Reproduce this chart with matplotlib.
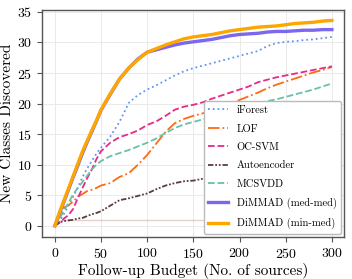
import matplotlib
matplotlib.use("Agg")
import matplotlib.pyplot as plt

plt.rcParams["font.family"] = "serif"
plt.rcParams["font.serif"] = ["cmr10", "DejaVu Serif"]
plt.rcParams["mathtext.fontset"] = "cm"
plt.rcParams["axes.formatter.use_mathtext"] = True

budget = [0, 5, 10, 15, 20, 25, 30, 35, 40, 45, 50, 60, 70, 80, 90, 100,
          110, 120, 130, 140, 150, 160, 170, 180, 190, 200, 210, 220, 230,
          240, 250, 260, 270, 280, 290, 300]

iforest = [0, 0.8, 2.0, 3.4, 4.8, 6.3, 8.0, 9.4, 10.6, 11.8, 12.8, 14.6, 17.0,
           20.1, 21.4, 22.3, 23.0, 23.8, 24.6, 25.3, 25.8, 26.2, 26.6, 27.0,
           27.4, 27.8, 28.2, 28.6, 29.4, 29.9, 30.1, 30.2, 30.4, 30.5, 30.7, 30.9]
lof = [0, 1.5, 3.0, 3.4, 4.0, 4.8, 5.2, 5.7, 5.9, 6.2, 6.6, 7.0, 8.0, 8.6,
       10.0, 11.6, 13.5, 15.4, 16.8, 17.5, 18.0, 18.4, 18.9, 19.4, 20.0, 20.6,
       21.2, 21.8, 22.5, 23.1, 23.6, 24.1, 24.6, 25.1, 25.5, 26.0]
ocsvm = [0, 0.5, 1.2, 1.8, 2.8, 4.6, 6.2, 7.8, 9.2, 10.9, 12.2, 13.6, 14.5,
         15.0, 15.6, 16.5, 17.1, 18.0, 19.0, 19.5, 19.8, 20.2, 20.8, 21.3,
         21.8, 22.3, 22.8, 23.5, 23.9, 24.3, 24.6, 24.9, 25.2, 25.5, 25.8, 26.1]
autoenc = [0, 0.6, 0.8, 0.9, 1.0, 1.2, 1.3, 1.6, 1.9, 2.1, 2.4, 3.3, 4.2, 4.5,
           4.9, 5.3, 6.0, 6.6, 7.0, 7.3, 7.4, 7.7, 8.0, 8.3, 8.6, 8.9, 9.2,
           9.5, 9.8, 10.0, 10.3, 10.6, 10.9, 11.1, 11.4, 11.7]
mcsvdd = [0, 1.2, 2.5, 3.8, 5.2, 6.2, 7.2, 8.2, 9.2, 10.0, 10.6, 11.4, 11.9,
          12.4, 13.0, 13.6, 14.3, 15.2, 16.0, 16.6, 17.0, 17.4, 17.9, 18.2,
          18.6, 19.0, 19.5, 20.0, 20.4, 20.7, 21.1, 21.5, 21.9, 22.3, 22.8, 23.3]
dimmad_med = [0, 2.0, 4.0, 6.0, 8.0, 9.9, 11.9, 13.7, 15.4, 17.1, 18.9, 21.5,
              24.0, 25.8, 27.3, 28.4, 28.8, 29.2, 29.6, 29.9, 30.1, 30.3, 30.5,
              30.8, 31.1, 31.3, 31.4, 31.5, 31.7, 31.8, 31.8, 31.9, 32.0, 32.0,
              32.1, 32.1]
dimmad_min = [0, 2.2, 4.2, 6.2, 8.2, 10.2, 12.2, 13.9, 15.6, 17.2, 19.0, 21.6,
              24.0, 25.8, 27.2, 28.4, 29.0, 29.6, 30.1, 30.6, 30.9, 31.1, 31.3,
              31.6, 31.9, 32.1, 32.3, 32.5, 32.6, 32.7, 32.9, 33.1, 33.2, 33.3,
              33.5, 33.6]

# faint baseline at one class
base_x = [8, 300]
base_y = [1, 1]

fig = plt.figure(figsize=(3.52, 2.79), dpi=100)
ax = fig.add_axes([0.119, 0.151, 0.858, 0.813])

ax.plot(base_x, base_y, color="#c99a9a", lw=1.0, alpha=0.45)
ax.plot(budget, iforest, ":", color="#6495ED", lw=1.3, label="iForest")
ax.plot(budget, lof, "-.", color="#FF6A13", lw=1.3, label="LOF")
ax.plot(budget, ocsvm, "--", color="#E7298A", lw=1.3, label="OC-SVM")
ax.plot(budget, autoenc, color="#5C3B3B", lw=1.3,
        linestyle=(0, (3, 1, 1, 1, 1, 1)), label="Autoencoder")
ax.plot(budget, mcsvdd, "--", color="#66C2A5", lw=1.3, label="MCSVDD")
ax.plot(budget, dimmad_med, "-", color="#7B68EE", lw=2.4, label="DiMMAD (med-med)")
ax.plot(budget, dimmad_min, "-", color="#FFA500", lw=2.4, label="DiMMAD (min-med)")

ax.set_xlim(-14, 313)
ax.set_ylim(-1.8, 35.3)
ax.set_xticks([0, 50, 100, 150, 200, 250, 300])
ax.set_yticks([0, 5, 10, 15, 20, 25, 30, 35])
ax.tick_params(labelsize=10, length=3.5, width=0.8, color="#555555")
ax.grid(True, color="#e6e6e6", lw=0.6)
ax.set_axisbelow(True)
for s in ax.spines.values():
    s.set_color("#555555")
    s.set_linewidth(1.0)

ax.set_xlabel("Follow-up Budget (No. of sources)", fontsize=11, labelpad=2)
ax.set_ylabel("New Classes Discovered", fontsize=11, labelpad=2)

leg = ax.legend(loc="lower right", fontsize=7.6, framealpha=1.0,
                edgecolor="#bbbbbb", borderaxespad=0.3, labelspacing=0.85,
                handlelength=1.9, handletextpad=0.8)

fig.savefig("out.png", dpi=100)
